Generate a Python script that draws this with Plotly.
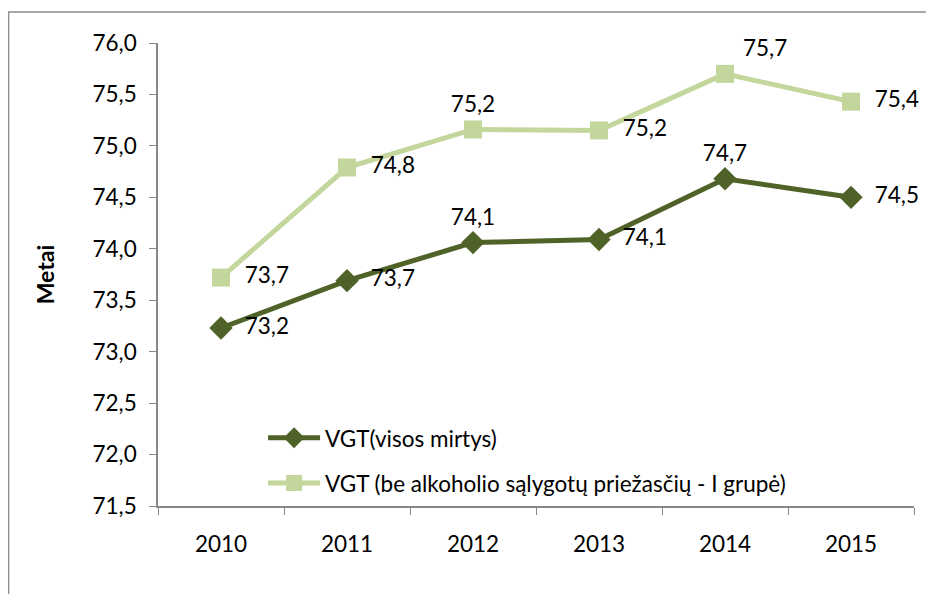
import plotly.graph_objects as go

years = ["2010", "2011", "2012", "2013", "2014", "2015"]
vgt_all = [73.23, 73.69, 74.06, 74.09, 74.68, 74.50]
vgt_no_alc = [73.72, 74.79, 75.16, 75.15, 75.70, 75.43]
y_ticks = [71.5, 72.0, 72.5, 73.0, 73.5, 74.0, 74.5, 75.0, 75.5, 76.0]

name_all = "VGT(visos mirtys)"
name_no_alc = "VGT (be alkoholio sąlygotų priežasčių - I grupė)"

pos_all = ["middle right", "middle right", "top center", "middle right", "top center", "middle right"]
pos_no_alc = ["middle right", "middle right", "top center", "middle right", "top right", "middle right"]
txt_all = ["  %{y:.1f}", "  %{y:.1f}", "%{y:.1f}", "  %{y:.1f}", "%{y:.1f}", "  %{y:.1f}"]
txt_no_alc = ["  %{y:.1f}", "  %{y:.1f}", "%{y:.1f}", "  %{y:.1f}", " %{y:.1f}", "  %{y:.1f}"]

dark = "#4F6228"
light = "#C3D69B"
font = "Lato, 'Open Sans', sans-serif"

fig = go.Figure()
fig.add_trace(go.Scatter(
    x=years, y=vgt_all, name=name_all, legendgroup="a",
    mode="lines+markers+text",
    line=dict(color=dark, width=5),
    marker=dict(symbol="diamond", size=18, color=dark),
    texttemplate=txt_all, textposition=pos_all, cliponaxis=False,
    textfont=dict(size=22.5, color="black", family=font),
))
fig.add_trace(go.Scatter(
    x=years, y=vgt_no_alc, name=name_no_alc, legendgroup="b",
    mode="lines+markers+text",
    line=dict(color=light, width=5),
    marker=dict(symbol="square", size=18, color=light),
    texttemplate=txt_no_alc, textposition=pos_no_alc, cliponaxis=False,
    textfont=dict(size=22.5, color="black", family=font),
))

# outer frame of the chart (page has an 8px body margin)
fig.add_shape(type="rect", xref="paper", yref="paper",
              x0=-0.1977, x1=1.0238, y0=-0.25, y1=1.067,
              line=dict(color="#8c8c8c", width=1.5), layer="below")

fig.update_layout(
    width=926, height=586,
    margin=dict(l=150, r=20, t=35, b=88),
    paper_bgcolor="white", plot_bgcolor="white",
    separators=", ",
    font=dict(family=font, size=22.5, color="black"),
    showlegend=True,
    legend=dict(x=0.139, y=0.193, xanchor="left", yanchor="top",
                bgcolor="rgba(0,0,0,0)", font=dict(size=22.5),
                itemwidth=52, tracegroupgap=13),
    xaxis=dict(type="category", range=[-0.5, 5.5],
               showline=True, linecolor="#868686", linewidth=1.5,
               ticks="outside", ticklen=7, tickcolor="#868686", tickson="boundaries",
               showgrid=False, tickfont=dict(size=22.5), ticklabelstandoff=17,
               automargin=False),
    yaxis=dict(range=[71.5, 76.0], tickvals=y_ticks, tickformat=".1f",
               showline=True, linecolor="#868686", linewidth=1.5,
               ticks="outside", ticklen=7, tickcolor="#868686",
               showgrid=False, zeroline=False, tickfont=dict(size=22.5),
               ticklabelstandoff=8, automargin=False,
               title=dict(text="<b>Metai</b>", font=dict(size=23), standoff=31)),
)

fig.write_html("out.html")
